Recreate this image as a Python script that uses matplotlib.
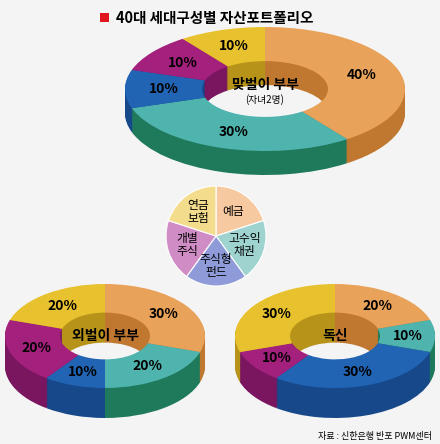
import numpy as np
import matplotlib.pyplot as plt
from matplotlib.patches import Wedge, Rectangle
from matplotlib.transforms import Affine2D

plt.rcParams["font.family"] = ["Noto Sans CJK KR", "DejaVu Sans"]

categories = ["예금", "고수익\n채권", "주식형\n펀드", "개별\n주식", "연금\n보험"]
dual_income = [40, 30, 10, 10, 10]
single_income = [30, 20, 10, 20, 20]
single = [20, 10, 30, 10, 30]

colors = ["#E9A25A", "#4FB3AE", "#2164B4", "#A3207D", "#E8C22E"]
side_colors = ["#C07830", "#1F7A5C", "#17488A", "#7A1560", "#B8931A"]
legend_colors = ["#F6C9A0", "#9FD3CF", "#8E9BD8", "#D08CC4", "#F3DC8C"]

fig = plt.figure(figsize=(4.4, 4.44), dpi=100)
ax = fig.add_axes([0, 0, 1, 1])
ax.set_xlim(0, 440)
ax.set_ylim(0, 444)
ax.axis("off")
fig.patch.set_facecolor("#F4F4F4")


def donut(cx, cy, rx, ry, depth, values, title, sub=None):
    k = ry / rx
    hole = 0.45
    bounds = np.cumsum([0] + values) / sum(values)
    for d in np.arange(depth, -1, -1):
        tr = Affine2D().scale(1, k).translate(cx, cy - d) + ax.transData
        cols = colors if d == 0 else side_colors
        for i in range(len(values)):
            t2 = 90 - bounds[i] * 360
            t1 = 90 - bounds[i + 1] * 360
            ax.add_patch(Wedge((0, 0), rx, t1, t2, width=rx * (1 - hole),
                               facecolor=cols[i], edgecolor="none", transform=tr))
    for i, v in enumerate(values):
        mid = np.radians(90 - (bounds[i] + bounds[i + 1]) * 180)
        r = rx * (1 + hole) / 2
        ax.text(cx + r * np.cos(mid), cy + r * k * np.sin(mid), f"{v}%",
                ha="center", va="center", fontsize=10, fontweight="bold")
    if sub:
        ax.text(cx, cy + 4, title, ha="center", va="center", fontsize=10, fontweight="bold")
        ax.text(cx, cy - 11, sub, ha="center", va="center", fontsize=7)
    else:
        ax.text(cx, cy, title, ha="center", va="center", fontsize=10, fontweight="bold")


donut(265, 355, 140, 62, 24, dual_income, "맞벌이 부부", "(자녀2명)")
donut(105, 108, 100, 52, 30, single_income, "외벌이 부부")
donut(335, 108, 100, 52, 30, single, "독신")

# legend pie
bounds = np.cumsum([0] + [1] * 5) / 5
lr = 50
lcx, lcy = 216, 208
for i, name in enumerate(categories):
    t2 = 90 - bounds[i] * 360
    t1 = 90 - bounds[i + 1] * 360
    ax.add_patch(Wedge((lcx, lcy), lr, t1, t2, facecolor=legend_colors[i],
                       edgecolor="white", linewidth=0.8))
    mid = np.radians((t1 + t2) / 2)
    ax.text(lcx + 30 * np.cos(mid), lcy + 30 * np.sin(mid), name, ha="center",
            va="center", fontsize=8.5, linespacing=1.0)

ax.add_patch(Rectangle((100, 422), 9, 9, facecolor="#E0161E"))
ax.text(116, 426, "40대 세대구성별 자산포트폴리오", ha="left", va="center",
        fontsize=10.5, fontweight="bold")
ax.text(432, 8, "자료 : 신한은행 반포 PWM센터", ha="right", va="center", fontsize=6.5)

fig.savefig("out.png", dpi=100, facecolor=fig.get_facecolor())
